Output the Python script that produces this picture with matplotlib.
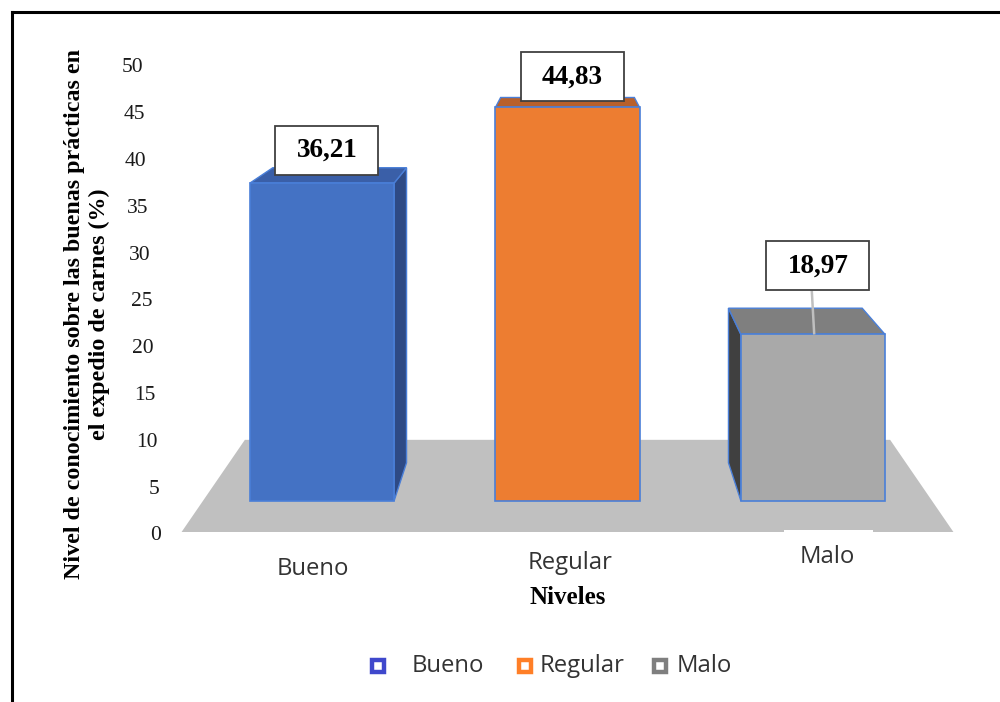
import matplotlib
matplotlib.use('Agg')
import matplotlib.pyplot as plt
from matplotlib.patches import Polygon, Rectangle
from matplotlib.lines import Line2D

# ---------------- data ----------------
categories = ['Bueno', 'Regular', 'Malo']
values = [36.21, 44.83, 18.97]
y_ticks = [0, 5, 10, 15, 20, 25, 30, 35, 40, 45, 50]
y_label = 'Nivel de conocimiento sobre las buenas prácticas en\nel expedio de carnes (%)'
x_label = 'Niveles'

# ---------------- style ----------------
front_colors = ['#4472C4', '#ED7D31', '#A9A9A9']
top_colors = ['#3A5FA8', '#B9602A', '#7F7F7F']
side_colors = ['#2E4A85', '#A9541F', '#404040']
legend_colors = ['#3F48CC', '#FF7F27', '#7F7F7F']
EDGE = '#4A7FD8'
FLOOR = '#C0C0C0'
SERIF = 'Liberation Serif'
SANS = 'Open Sans'

W, H = 1000, 702
fig = plt.figure(figsize=(W / 100, H / 100), dpi=100)
ax = fig.add_axes([0, 0, 1, 1])

PX = 245.5   # pixels per category step
PY = 8.78    # pixels per value unit
X0 = 322     # pixel x of first category
Y0 = 201     # pixel y (from bottom) of value 0
ax.set_xlim(-X0 / PX, (W - X0) / PX)
ax.set_ylim(-Y0 / PY, (H - Y0) / PY)
ax.axis('off')

# simple perspective: vanishing point and depth factor
VX, VY = 1.0, (H + 30 - Y0) / PY
D = 0.072


def back(x, y, t=D):
    return (x + t * (VX - x), y + t * (VY - y))


# floor
FY = (170 - Y0) / PY
FHALF = 1.572
FDEPTH = 0.164
xl, xr = VX - FHALF, VX + FHALF
floor = [(xl, FY), (xr, FY), back(xr, FY, FDEPTH), back(xl, FY, FDEPTH)]
ax.add_patch(Polygon(floor, closed=True, fc=FLOOR, ec='none', zorder=1))

positions = list(range(len(categories)))
BW = 0.587

for i, v in zip(positions, values):
    l, r = i - BW / 2, i + BW / 2
    if r < VX:
        side = [(r, 0), (r, v), back(r, v), back(r, 0)]
    elif l > VX:
        side = [(l, 0), (l, v), back(l, v), back(l, 0)]
    else:
        side = None
    if side:
        ax.add_patch(Polygon(side, closed=True, fc=side_colors[i], ec=EDGE,
                             lw=1.0, zorder=2))
    top = [(l, v), (r, v), back(r, v), back(l, v)]
    ax.add_patch(Polygon(top, closed=True, fc=top_colors[i], ec=EDGE,
                         lw=1.0, zorder=2))

ax.bar(positions, values, width=BW, color=front_colors, edgecolor=EDGE,
       linewidth=1.2, zorder=3)

# small white patch over the floor edge (as in the original)
ax.add_patch(Rectangle(((784 - X0) / PX, (166 - Y0) / PY), 89 / PX, 6 / PY,
                       fc='white', ec='none', zorder=1.5))

# value labels
LABEL_GAP = [8, 6, 44]  # px between bar top and label box
BOXW, BOXH = 103 / PX, 49 / PY
for i, v in zip(positions, values):
    cx = i + 0.02
    bottom = v + LABEL_GAP[i] / PY
    if LABEL_GAP[i] > 20:
        ax.plot([cx - 0.015, cx - 0.025], [v, bottom], color='#BFBFBF',
                lw=1.8, zorder=4, solid_capstyle='butt')
    ax.add_patch(Rectangle((cx - BOXW / 2, bottom), BOXW, BOXH, fc='white',
                           ec='#404040', lw=1.3, zorder=5))
    ax.text(cx, bottom + BOXH / 2, f'{v:.2f}'.replace('.', ','),
            ha='center', va='center', family=SERIF, fontweight='bold',
            fontsize=19.5, color='black', zorder=6)

# y tick labels (slanted axis of the 3D chart)
for t in y_ticks:
    fig.text((161 - 0.36 * t) / W, (H - (536 - 9.36 * t)) / H, str(t),
             ha='right', va='center', family=SERIF, fontsize=15.5,
             color='#1a1a1a')

# category labels
for i, c in enumerate(categories):
    ax.text(i * 1.047 - 0.037, (-68 + 6 * i) / PY, c, ha='center',
            va='center', family=SANS, fontsize=17.2, color='#333333')

# axis titles
fig.text(87 / W, (H - 314) / H, y_label, rotation=90, ha='center',
         va='center', multialignment='center', family=SERIF,
         fontweight='bold', fontsize=17.3, linespacing=1.25)
fig.text(568 / W, (H - 597) / H, x_label, ha='center', va='center',
         family=SERIF, fontweight='bold', fontsize=18)

# legend
LEG_MX = [378, 525, 660]
LEG_TX = [412, 540, 677]
LEG_Y = 666
for c, col, mx, tx in zip(categories, legend_colors, LEG_MX, LEG_TX):
    fig.add_artist(Line2D([mx / W], [(H - LEG_Y) / H], marker='s',
                          markersize=8.5, markerfacecolor='white',
                          markeredgecolor=col, markeredgewidth=3.2,
                          linestyle='none', transform=fig.transFigure))
    fig.text(tx / W, (H - LEG_Y) / H, c, ha='left', va='center',
             family=SANS, fontsize=17.2, color='#333333')

# frame lines
fig.add_artist(Line2D([11.5 / W, 1], [(H - 11.5) / H] * 2, color='black',
                      lw=2.2, transform=fig.transFigure))
fig.add_artist(Line2D([11.5 / W] * 2, [0, (H - 11.5) / H], color='black',
                      lw=2.2, transform=fig.transFigure))

fig.savefig('out.png', dpi=100)
